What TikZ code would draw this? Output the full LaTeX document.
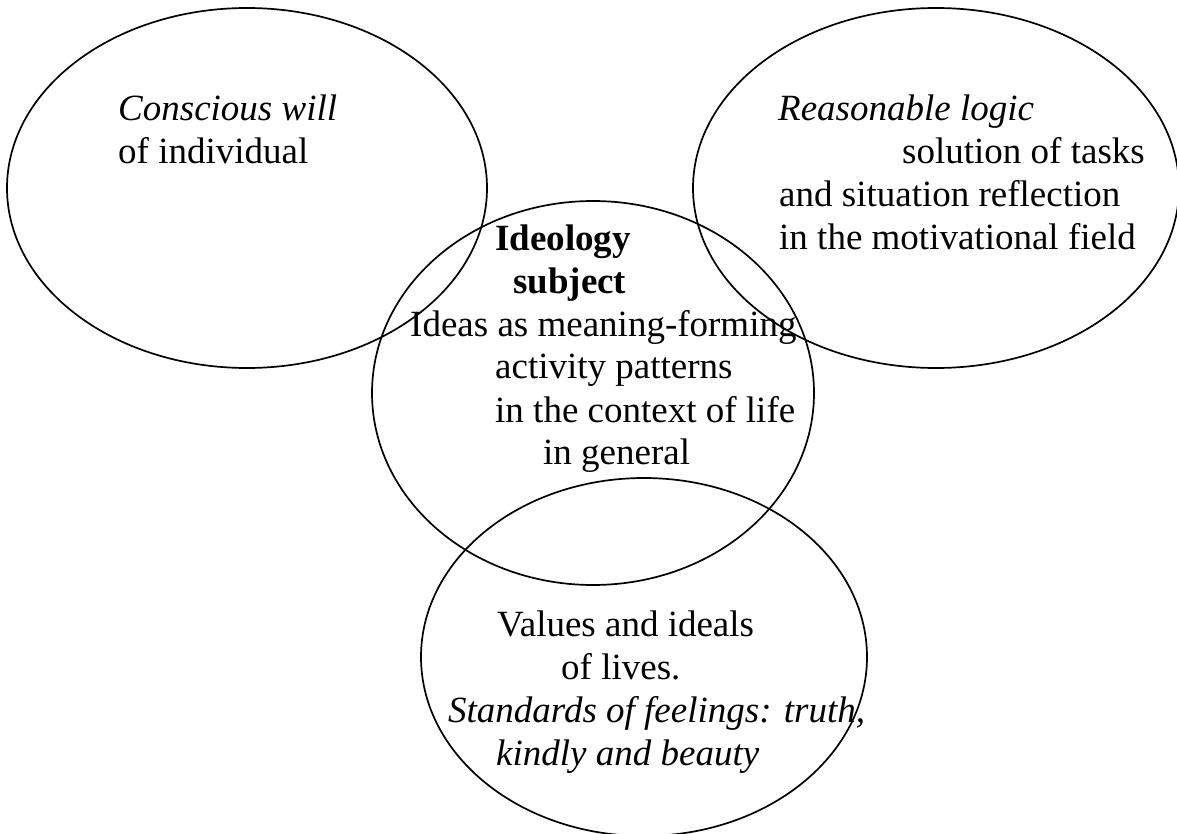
\documentclass[tikz,border=0pt]{standalone}
\usepackage{fontspec}
\setmainfont{Liberation Serif}
\usetikzlibrary{shapes.geometric}
\begin{document}
\begin{tikzpicture}[x=1pt,y=-1pt,
  oval/.style={draw=black,line width=1.7pt,ellipse,inner sep=0pt,fill=none},
  txt/.style={anchor=base west,inner sep=0pt,font=\fontsize{37}{43}\selectfont}]
\useasboundingbox (0,0) rectangle (1177,834);
% ellipses
\node[oval,minimum width=480pt,minimum height=360pt] (will) at (247,188) {};
\node[oval,minimum width=486pt,minimum height=360pt] (logic) at (936,188) {};
\node[oval,minimum width=442pt,minimum height=384pt] (ideo) at (593,393) {};
\node[oval,minimum width=446pt,minimum height=358pt] (vals) at (644,657) {};
% texts: conscious will
\node[txt] (w1) at (118,121) {\itshape Conscious will};
\node[txt] (w2) at (118,164) {of individual};
% reasonable logic
\node[txt] (l1) at (778,121) {\itshape Reasonable logic};
\node[txt] (l2) at (902,164) {solution of tasks};
\node[txt] (l3) at (779,207) {and situation reflection};
\node[txt] (l4) at (779,250) {in the motivational field};
% ideology
\node[txt] (i1) at (495,251) {\bfseries Ideology};
\node[txt] (i2) at (513,293) {\bfseries subject};
\node[txt] (i3) at (410,336) {Ideas as meaning-forming};
\node[txt] (i4) at (495,378) {activity patterns};
\node[txt] (i5) at (495,422) {in the context of life};
\node[txt] (i6) at (543,464) {in general};
% values
\node[txt] (v1) at (497,636) {Values and ideals};
\node[txt] (v2) at (561,679) {of lives.};
\node[txt] (v3) at (448,722) {\itshape Standards of feelings: truth,};
\node[txt] (v4) at (496,765) {\itshape kindly and beauty};
\end{tikzpicture}
\end{document}
